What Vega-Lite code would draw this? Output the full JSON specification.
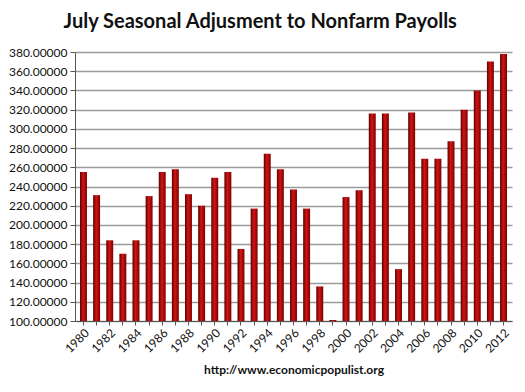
{
  "$schema": "https://vega.github.io/schema/vega-lite/v6.json",
  "width": 437,
  "height": 269,
  "padding": {"left": 8, "top": 12, "right": 18, "bottom": 5},
  "background": "white",
  "title": {
    "text": "July Seasonal Adjusment to Nonfarm Payolls",
    "font": "Lato",
    "fontSize": 20,
    "fontWeight": "bold",
    "color": "#111111",
    "anchor": "middle",
    "frame": "bounds",
    "offset": 14
  },
  "config": {
    "view": {"stroke": null},
    "axis": {"labelFont": "Lato", "titleFont": "Lato", "labelColor": "#111111", "titleColor": "#111111"}
  },
  "data": {
    "values": [
      {"year": "1980", "value": 255},
      {"year": "1981", "value": 231},
      {"year": "1982", "value": 184},
      {"year": "1983", "value": 170},
      {"year": "1984", "value": 184},
      {"year": "1985", "value": 230},
      {"year": "1986", "value": 255},
      {"year": "1987", "value": 258},
      {"year": "1988", "value": 232},
      {"year": "1989", "value": 220},
      {"year": "1990", "value": 249},
      {"year": "1991", "value": 255},
      {"year": "1992", "value": 175},
      {"year": "1993", "value": 217},
      {"year": "1994", "value": 274},
      {"year": "1995", "value": 258},
      {"year": "1996", "value": 237},
      {"year": "1997", "value": 217},
      {"year": "1998", "value": 136},
      {"year": "1999", "value": 101},
      {"year": "2000", "value": 229},
      {"year": "2001", "value": 236},
      {"year": "2002", "value": 316},
      {"year": "2003", "value": 316},
      {"year": "2004", "value": 154},
      {"year": "2005", "value": 317},
      {"year": "2006", "value": 269},
      {"year": "2007", "value": 269},
      {"year": "2008", "value": 287},
      {"year": "2009", "value": 320},
      {"year": "2010", "value": 340},
      {"year": "2011", "value": 370},
      {"year": "2012", "value": 378}
    ]
  },
  "mark": {
    "type": "bar",
    "color": {
      "gradient": "linear",
      "x1": 0, "x2": 1, "y1": 0, "y2": 0,
      "stops": [
        {"offset": 0, "color": "#5a0000"},
        {"offset": 0.45, "color": "#d41414"},
        {"offset": 1, "color": "#7a0000"}
      ]
    }
  },
  "encoding": {
    "x": {
      "field": "year",
      "type": "ordinal",
      "scale": {"paddingInner": 0.47, "paddingOuter": 0.38},
      "axis": {
        "title": "http://www.economicpopulist.org",
        "titleFontSize": 12,
        "titleFontWeight": "bold",
        "titlePadding": 10,
        "labelAngle": -45,
        "labelFontSize": 12,
        "labelExpr": "toNumber(datum.value) % 2 == 0 ? datum.value : ''",
        "domainColor": "#555555",
        "tickColor": "#555555",
        "tickSize": 4,
        "grid": false
      }
    },
    "y": {
      "field": "value",
      "type": "quantitative",
      "scale": {"domain": [100, 380], "nice": false, "zero": false},
      "axis": {
        "title": null,
        "values": [100,120,140,160,180,200,220,240,260,280,300,320,340,360,380],
        "format": ".5f",
        "labelFontSize": 12,
        "labelPadding": 3,
        "tickSize": 5,
        "tickColor": "#555555",
        "domainColor": "#555555",
        "gridColor": "#9a9a9a",
        "gridWidth": 1.5,
        "minExtent": 62,
        "maxExtent": 62
      }
    },
    "y2": {"datum": 100}
  }
}
